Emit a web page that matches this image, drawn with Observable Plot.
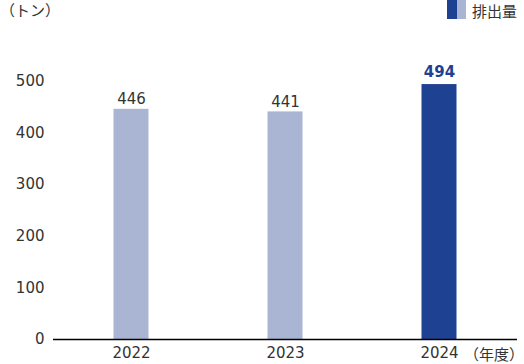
<!DOCTYPE html>
<html><head><meta charset="utf-8">
<script src="https://cdn.jsdelivr.net/npm/d3@7"></script>
<script src="https://cdn.jsdelivr.net/npm/@observablehq/plot@0.6"></script>
<style>
body{margin:0;background:#fff;font-family:"DejaVu Sans","Noto Sans CJK JP",sans-serif;}
#wrap{position:relative;width:524px;height:364px;}
.lbl{position:absolute;font-size:15px;color:#333;white-space:nowrap;line-height:1;font-family:"Noto Sans CJK JP",sans-serif;}
</style></head>
<body><div id="wrap"></div>
<script>
const years = ["2022","2023","2024"];
const values = [446, 441, 494];
const highlight = [false, false, true];
const yTicks = [0,100,200,300,400,500];
const unitLabel = "（トン）";
const xUnitLabel = "（年度）";
const legendLabel = "排出量";
const lightColor = "#aab5d3";
const darkColor = "#1f4191";

const data = years.map((y,i)=>({year:y, value:values[i], hi:highlight[i]}));

const chart = Plot.plot({
  width:524, height:364,
  marginLeft:53, marginRight:7, marginTop:50, marginBottom:25,
  style:{fontFamily:'"DejaVu Sans","Noto Sans CJK JP",sans-serif', fontSize:"15px", color:"#333", background:"#fff"},
  x:{domain:years, padding:0, label:null, tickSize:0, tickPadding:8},
  y:{domain:[0,560], ticks:yTicks, label:null, tickSize:0, tickPadding:9, tickFormat:d=>String(d)},
  marks:[
    Plot.barY(data,{x:"year", y:"value", fill:d=>d.hi?darkColor:lightColor, insetLeft:59.5, insetRight:59.5}),
    Plot.ruleY([0],{stroke:"#000", strokeWidth:1.6}),
    Plot.text(data.filter(d=>!d.hi),{x:"year", y:"value", text:d=>String(d.value), dy:-10, fill:"#333", fontSize:15}),
    Plot.text(data.filter(d=>d.hi),{x:"year", y:"value", text:d=>String(d.value), dy:-12, fill:darkColor, fontSize:15, fontWeight:"bold"})
  ]
});
const wrap = document.getElementById("wrap");
wrap.appendChild(chart);

function addLabel(text, left, top, extra){
  const d=document.createElement("div");
  d.className="lbl"; d.textContent=text;
  d.style.left=left+"px"; d.style.top=top+"px";
  if(extra) Object.assign(d.style, extra);
  wrap.appendChild(d);
}
addLabel(unitLabel, 0, 2);
addLabel(xUnitLabel, 464, 346);
// legend
const sw=document.createElement("div");
sw.style.cssText=`position:absolute;left:447px;top:0px;width:19px;height:19px;background:linear-gradient(to right, ${darkColor} 50%, ${lightColor} 50%);`;
wrap.appendChild(sw);
addLabel(legendLabel, 472, 3, {fontSize:"15px"});
</script></body></html>
